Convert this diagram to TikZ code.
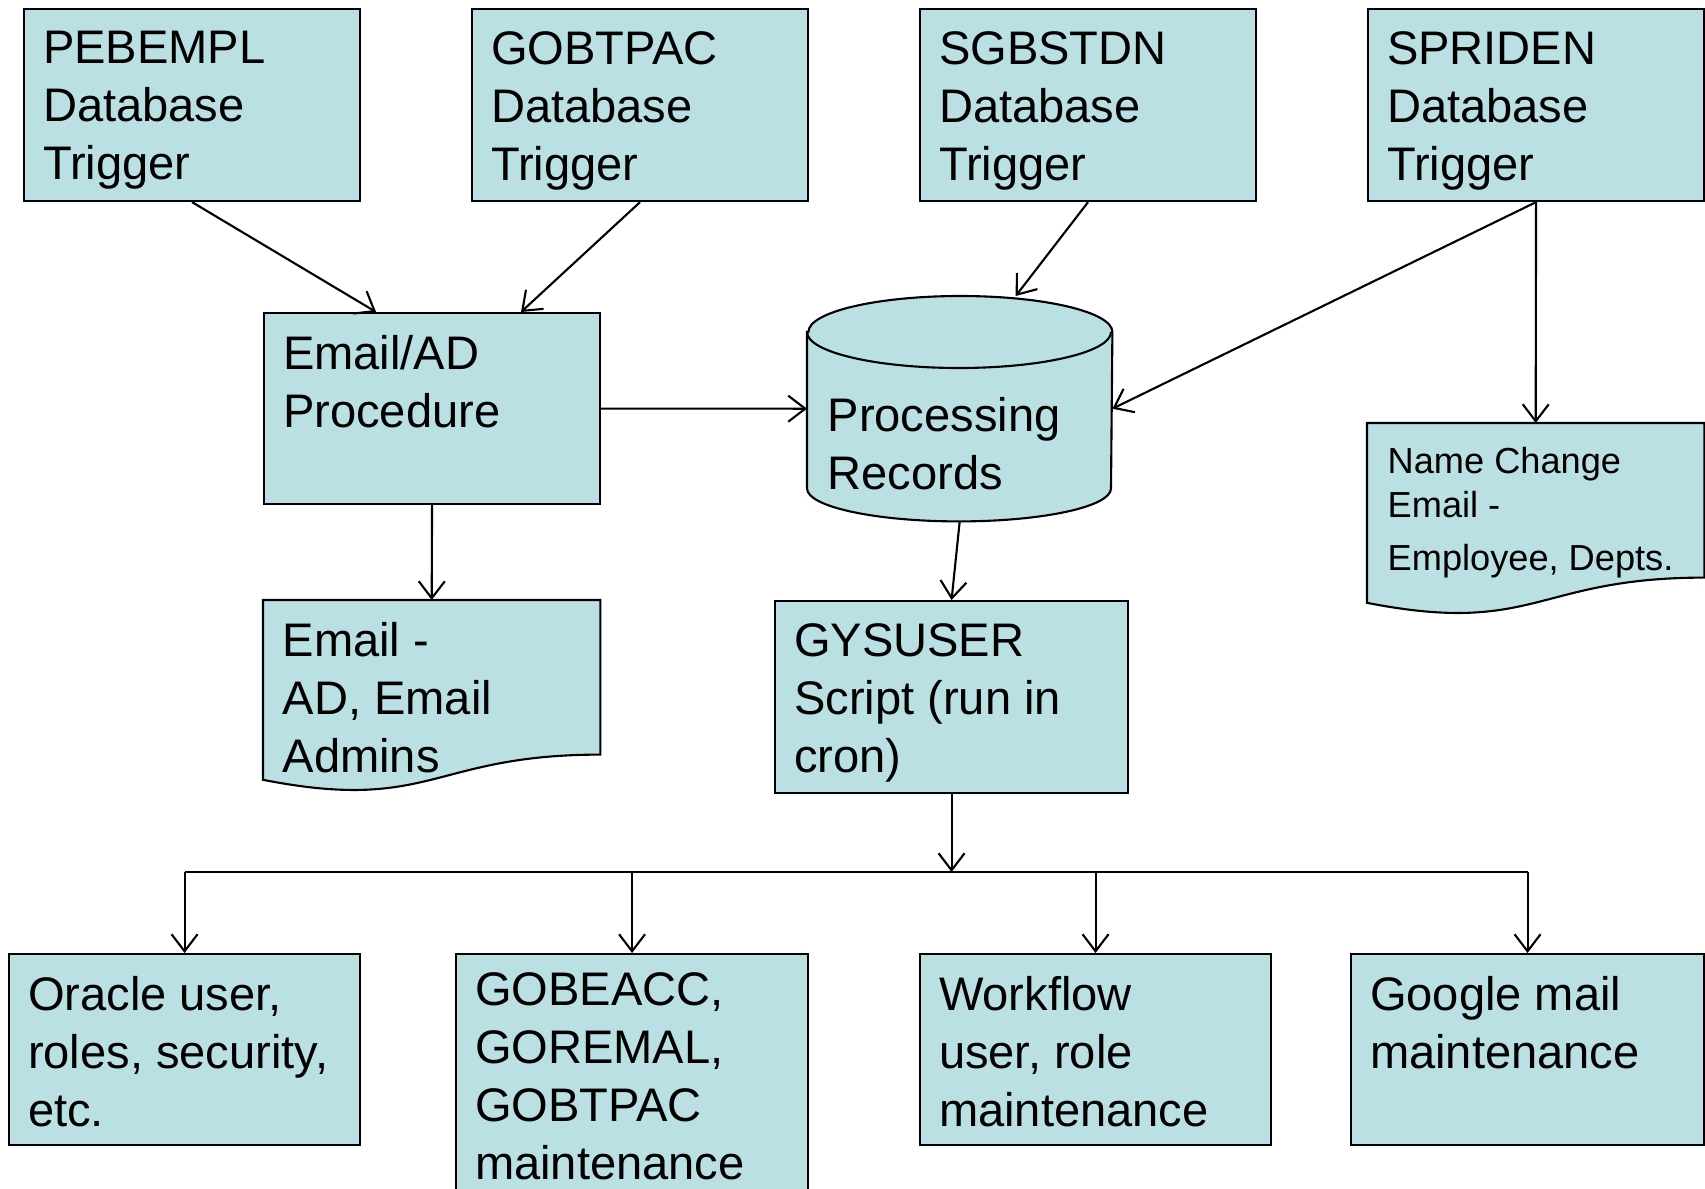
\documentclass[tikz,border=0pt]{standalone}
\usepackage{fontspec}
\setmainfont{Liberation Sans}
\usetikzlibrary{arrows.meta,backgrounds,calc}
\definecolor{boxfill}{HTML}{BBE0E3}

\newcommand{\bigtext}{\fontsize{13.4}{16.5}\selectfont}
\newcommand{\smalltext}{\fontsize{10.3}{12.5}\selectfont}
% text block pinned to the top of its box
\newcommand{\boxtext}[2][2.98cm]{\parbox[c][1.47cm][t]{#1}{#2}}

\tikzset{
  box/.style={draw, fill=boxfill, line width=0.6pt, anchor=north west, inner sep=0pt,
    minimum height=1.92cm, minimum width=#1, font=\bigtext},
  box/.default=3.36cm,
  doc/.style={anchor=north west, inner sep=0pt, minimum width=3.36cm, minimum height=1.91cm},
  outline/.style={draw, fill=boxfill, line width=0.6pt},
  link/.style={-{Straight Barb[length=1.7mm,width=2.6mm]}, line width=0.6pt},
}

\begin{document}
\begin{tikzpicture}
  \useasboundingbox (0,0) rectangle (17.05,11.88);
  \clip (0,0) rectangle (17.05,11.88);

  % triggers
  \node[box] (pebempl) at (0.23,11.80) {\boxtext{PEBEMPL\\Database\\Trigger}};
  \node[box] (gobtpac) at (4.71,11.80) {\boxtext{GOBTPAC\\Database\\Trigger}};
  \node[box] (sgbstdn) at (9.19,11.80) {\boxtext{SGBSTDN\\Database\\Trigger}};
  \node[box] (spriden) at (13.67,11.80) {\boxtext{SPRIDEN\\Database\\Trigger}};

  % middle row
  \node[box, minimum height=1.91cm] (emailad) at (2.63,8.76) {\boxtext{Email/AD\\Procedure}};
  \node[anchor=north west, inner sep=0pt, minimum width=3.04cm, minimum height=2.24cm,
    font=\bigtext] (proc) at (8.07,8.92) {\parbox[c][2mm][t]{2.64cm}{Processing\\Records}};
  \node[doc, font=\bigtext] (admins) at (2.63,5.88) {\boxtext{Email -\\AD, Email\\Admins}};
  \node[doc, font=\smalltext] (namechg) at (13.67,7.65)
    {\parbox[c][1.44cm][t]{2.96cm}{Name Change\\Email -\\[0.9mm]Employee, Depts.}};
  \node[box=3.53cm] (gysuser) at (7.74,5.88) {\boxtext[3.15cm]{GYSUSER\\Script (run in\\cron)}};

  % maintenance jobs
  \node[box=3.51cm, minimum height=1.91cm] (oracle) at (0.08,2.35)
    {\boxtext[3.13cm]{Oracle user,\\roles, security,\\etc.}};
  \node[box=3.52cm, minimum height=2.5cm] (gobeacc) at (4.55,2.35)
    {\parbox[c][2.12cm][t]{3.14cm}{GOBEACC,\\GOREMAL,\\GOBTPAC\\maintenance}};
  \node[box=3.51cm, minimum height=1.91cm] (workflow) at (9.19,2.35)
    {\boxtext[3.13cm]{Workflow\\user, role\\maintenance}};
  \node[box=3.53cm, minimum height=1.91cm] (google) at (13.50,2.35)
    {\boxtext[3.15cm]{Google mail\\maintenance}};

  \begin{scope}[on background layer]
    % document shapes
    \foreach \d in {admins,namechg}
      \path[outline] (\d.north west) -- (\d.north east) -- ([yshift=3.78mm]\d.south east)
        .. controls ([yshift=3.78mm]\d.south) and ([yshift=-2.05mm]\d.south)
        .. ([yshift=1.26mm]\d.south west) -- cycle;
    % cylinder
    \path[outline] ([yshift=-3.6mm]proc.north west) -- ([yshift=3.3mm]proc.south west)
      arc[start angle=180, end angle=360, x radius=1.52cm, y radius=3.3mm]
      -- ([yshift=-3.6mm]proc.north east)
      arc[start angle=0, end angle=180, x radius=1.52cm, y radius=3.6mm] -- cycle;
    \draw[line width=0.6pt] ([yshift=-3.6mm]proc.north west)
      arc[start angle=180, end angle=360, x radius=1.52cm, y radius=3.6mm];
  \end{scope}

  \draw[link] (pebempl.south) -- ([xshift=-5.6mm]emailad.north);
  \draw[link] (gobtpac.south) -- ([xshift=8.9mm]emailad.north);
  \draw[link] (sgbstdn.south) -- ([xshift=5.6mm]proc.north);
  \draw[link] (spriden.south) -- (proc.east);
  \draw[link] (spriden.south) -- (namechg.north);
  \draw[link] (emailad.east) -- (proc.west);
  \draw[link] (emailad.south) -- (admins.north);
  \draw[link] (proc.south) -- (gysuser.north);

  % fan out to the jobs
  \coordinate (split) at (gysuser.south |- 0,3.16);
  \draw[link] (gysuser.south) -- (split);
  \draw[line width=0.6pt] (oracle.north |- split) -- (google.north |- split);
  \foreach \t in {oracle,gobeacc,workflow,google}
    \draw[link] (\t.north |- split) -- (\t.north);
\end{tikzpicture}
\end{document}
